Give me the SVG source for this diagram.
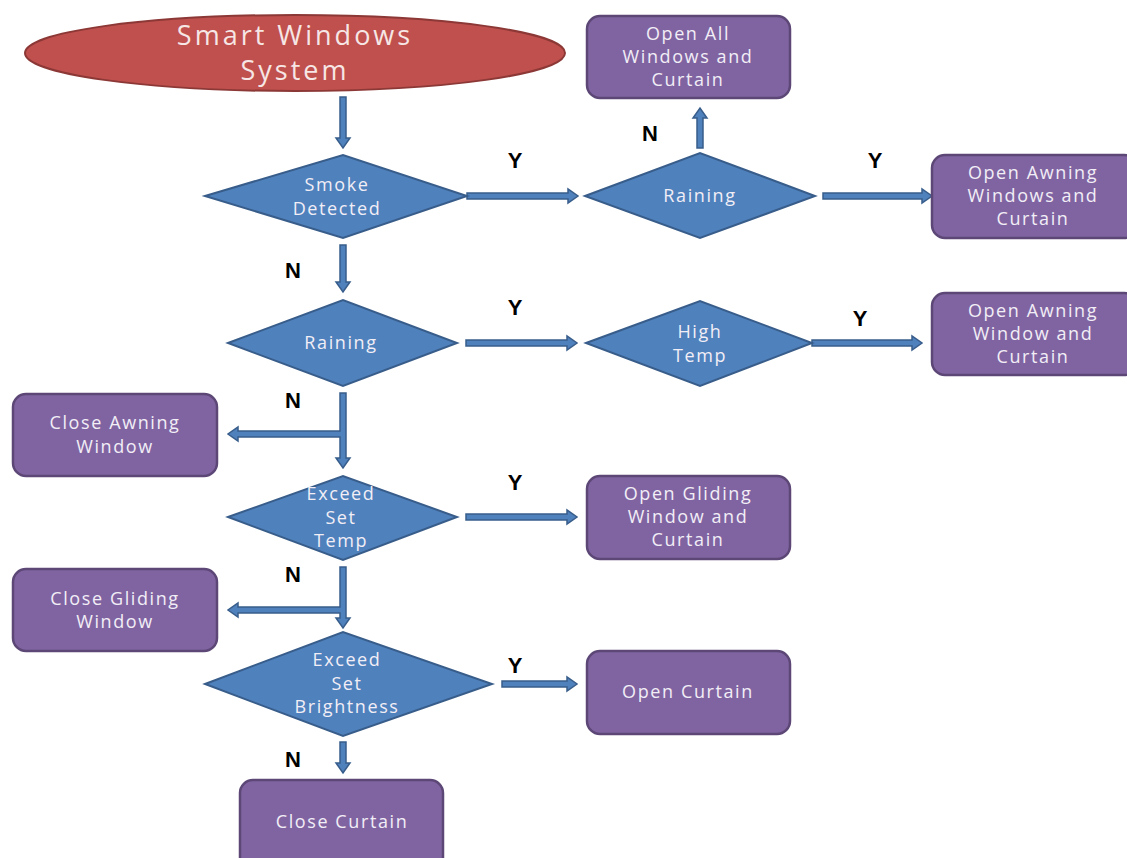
<svg xmlns="http://www.w3.org/2000/svg" width="1127" height="858" viewBox="0 0 1127 858">
<style>
.dia{fill:#4f81bd;stroke:#385d8a;stroke-width:2}
.box{fill:#8064a2;stroke:#5c4776;stroke-width:2.5}
.arr{fill:#4f81bd;stroke:#385d8a;stroke-width:1.5}
.t{font-family:"Open Sans","Liberation Sans",sans-serif;font-size:18px;letter-spacing:1.6px;fill:#f2eef6;text-anchor:middle}
.lbl{font-family:"Liberation Sans",Arial,sans-serif;font-size:22px;font-weight:bold;fill:#000;text-anchor:middle}
</style>
<rect width="1127" height="858" fill="#fff"/>
<g id="start">
<ellipse cx="295" cy="53" rx="270" ry="38" fill="#c0504d" stroke="#8c3836" stroke-width="2"/>
<text class="t" x="295" y="45" style="font-size:27px;letter-spacing:3px;fill:#f6e6e5">Smart Windows</text>
<text class="t" x="295" y="80" style="font-size:27px;letter-spacing:3px;fill:#f6e6e5">System</text>
</g>
<g id="connectors">
<path class="arr" d="M340,97 H346 V138 H350 L343,148 L336,138 H340 Z"/>
<path class="arr" d="M467,193 H568 V189 L578,196 L568,203 V199 H467 Z"/>
<path class="arr" d="M697,148 V118 H693 L700,108 L707,118 H703 V148 Z"/>
<path class="arr" d="M823,193 H922 V189 L932,196 L922,203 V199 H823 Z"/>
<path class="arr" d="M340,245 H346 V282 H350 L343,292 L336,282 H340 Z"/>
<path class="arr" d="M466,340 H567 V336 L577,343 L567,350 V346 H466 Z"/>
<path class="arr" d="M812,340 H912 V336 L922,343 L912,350 V346 H812 Z"/>
<path class="arr" d="M340,393 H346 V458 H350 L343,468 L336,458 H340 V437 H238 V441 L228,434 L238,427 V431 H340 Z"/>
<path class="arr" d="M466,514 H567 V510 L577,517 L567,524 V520 H466 Z"/>
<path class="arr" d="M340,567 H346 V618 H350 L343,628 L336,618 H340 V613 H238 V617 L228,610 L238,603 V607 H340 Z"/>
<path class="arr" d="M502,681 H567 V677 L577,684 L567,691 V687 H502 Z"/>
<path class="arr" d="M340,742 H346 V763 H350 L343,773 L336,763 H340 Z"/>
<text class="lbl" x="515" y="168">Y</text>
<text class="lbl" x="650" y="141">N</text>
<text class="lbl" x="875" y="168">Y</text>
<text class="lbl" x="293" y="278">N</text>
<text class="lbl" x="515" y="315">Y</text>
<text class="lbl" x="860" y="326">Y</text>
<text class="lbl" x="293" y="408">N</text>
<text class="lbl" x="515" y="490">Y</text>
<text class="lbl" x="293" y="582">N</text>
<text class="lbl" x="515" y="673">Y</text>
<text class="lbl" x="293" y="767">N</text>
</g>
<g id="smoke">
<polygon class="dia" points="205,196 343,155 467,196 343,238"/>
<text class="t" x="337" y="191">Smoke</text>
<text class="t" x="337" y="215">Detected</text>
</g>
<g id="raining1">
<polygon class="dia" points="585,196 700,153 815,196 700,238"/>
<text class="t" x="700" y="202">Raining</text>
</g>
<g id="openAll">
<rect class="box" x="587" y="16" width="203" height="82" rx="13"/>
<text class="t" x="688" y="40">Open All</text>
<text class="t" x="688" y="63">Windows and</text>
<text class="t" x="688" y="86">Curtain</text>
</g>
<g id="openAwning1">
<rect class="box" x="932" y="155" width="205" height="83" rx="13"/>
<text class="t" x="1033" y="179">Open Awning</text>
<text class="t" x="1033" y="202">Windows and</text>
<text class="t" x="1033" y="225">Curtain</text>
</g>
<g id="raining2">
<polygon class="dia" points="228,343 343,300 457,343 343,386"/>
<text class="t" x="341" y="349">Raining</text>
</g>
<g id="highTemp">
<polygon class="dia" points="586,343 700,301 812,343 700,386"/>
<text class="t" x="700" y="338">High</text>
<text class="t" x="700" y="362">Temp</text>
</g>
<g id="openAwning2">
<rect class="box" x="932" y="293" width="205" height="82" rx="13"/>
<text class="t" x="1033" y="317">Open Awning</text>
<text class="t" x="1033" y="340">Window and</text>
<text class="t" x="1033" y="363">Curtain</text>
</g>
<g id="closeAwning">
<rect class="box" x="13" y="394" width="204" height="82" rx="13"/>
<text class="t" x="115" y="429">Close  Awning</text>
<text class="t" x="115" y="453">Window</text>
</g>
<g id="exceedTemp">
<polygon class="dia" points="228,517 343,476 457,517 343,560"/>
<text class="t" x="341" y="500">Exceed</text>
<text class="t" x="341" y="524">Set</text>
<text class="t" x="341" y="547">Temp</text>
</g>
<g id="openGliding">
<rect class="box" x="587" y="476" width="203" height="83" rx="13"/>
<text class="t" x="688" y="500">Open  Gliding</text>
<text class="t" x="688" y="523">Window and</text>
<text class="t" x="688" y="546">Curtain</text>
</g>
<g id="closeGliding">
<rect class="box" x="13" y="569" width="204" height="82" rx="13"/>
<text class="t" x="115" y="605">Close  Gliding</text>
<text class="t" x="115" y="628">Window</text>
</g>
<g id="exceedBright">
<polygon class="dia" points="205,684 343,632 492,684 343,736"/>
<text class="t" x="347" y="666">Exceed</text>
<text class="t" x="347" y="690">Set</text>
<text class="t" x="347" y="713">Brightness</text>
</g>
<g id="openCurtain">
<rect class="box" x="587" y="651" width="203" height="83" rx="13"/>
<text class="t" x="688" y="698">Open Curtain</text>
</g>
<g id="closeCurtain">
<rect class="box" x="240" y="780" width="203" height="90" rx="13"/>
<text class="t" x="342" y="828">Close Curtain</text>
</g>
</svg>
